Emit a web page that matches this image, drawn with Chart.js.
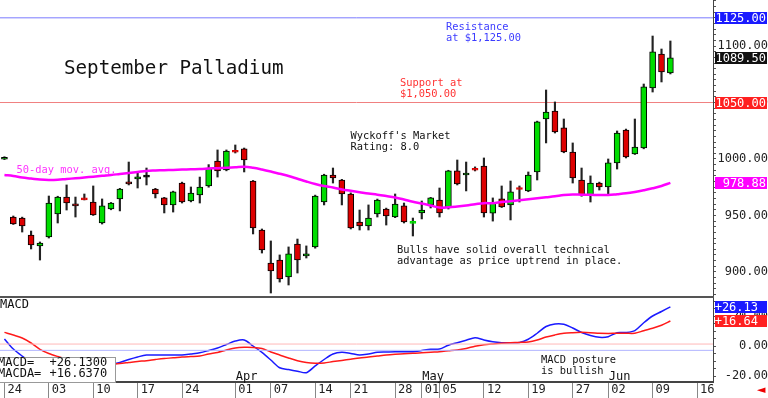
<!DOCTYPE html>
<html>
<head>
<meta charset="utf-8">
<title>September Palladium</title>
<script src="https://cdn.jsdelivr.net/npm/chart.js@4.4.1/dist/chart.umd.min.js"></script>
<style>
  body { margin: 0; background: #fff; }
  #wrap { position: relative; width: 768px; height: 398px; overflow: hidden; background: #fff; }
  canvas { position: absolute; left: 0; }
  #priceChart { top: 0; }
  #macdChart { top: 297px; }
  .sep { position: absolute; left: 0; top: 296px; width: 714px; height: 2px; background: #555; }
  .note { position: absolute; white-space: pre; font-family: "DejaVu Sans Mono", monospace; font-size: 10.4px; line-height: 10.5px; color: #111; }
  .mono12 { position: absolute; white-space: pre; font-family: "DejaVu Sans Mono", monospace; font-size: 12px; line-height: 11px; color: #111; }
  #macdBox { position: absolute; left: -1px; top: 357px; width: 115px; height: 24px; background: #fff; border: 1px solid #999; }
  #arrow { position: absolute; left: 757px; top: 383px; font: 11px "DejaVu Sans", sans-serif; color: #e00; }
</style>
</head>
<body>
<div id="wrap">
  <canvas id="priceChart" width="768" height="296"></canvas>
  <canvas id="macdChart" width="768" height="101"></canvas>
  <div class="sep"></div>

  <div class="note" style="left:64px;top:58.4px;font-size:19.2px;line-height:20px;">September Palladium</div>
  <div class="note" style="left:446px;top:21.2px;color:#3c3cff;">Resistance
at $1,125.00</div>
  <div class="note" style="left:400px;top:77.2px;color:#ff3333;">Support at
$1,050.00</div>
  <div class="note" style="left:350.5px;top:130.2px;">Wyckoff's Market
Rating: 8.0</div>
  <div class="note" style="left:16.5px;top:164.2px;color:#ff33ff;">50-day mov. avg.</div>
  <div class="note" style="left:397px;top:244.2px;">Bulls have solid overall technical
advantage as price uptrend in place.</div>

  <div class="mono12" style="left:0;top:299px;">MACD</div>
  <div class="note" style="left:541px;top:354.2px;">MACD posture
is bullish</div>
  <div id="macdBox"></div>
  <div class="mono12" id="boxLabels" style="left:-2px;top:357px;">MACD=
MACDA=</div>
  <div class="mono12" id="boxValues" style="left:49.5px;top:357px;"></div>
  <div id="arrow">&#9668;</div>
</div>

<script>
// trading days (MM-DD), the last four are empty future slots on the axis
const dates = [
  '02-24','02-25','02-26','02-27','02-28',
  '03-03','03-04','03-05','03-06','03-07',
  '03-10','03-11','03-12','03-13','03-14',
  '03-17','03-18','03-19','03-20','03-21',
  '03-24','03-25','03-26','03-27','03-28',
  '03-31','04-01','04-02','04-03','04-04',
  '04-07','04-08','04-09','04-10','04-11',
  '04-14','04-15','04-16','04-17',
  '04-21','04-22','04-23','04-24','04-25',
  '04-28','04-29','04-30','05-01','05-02',
  '05-05','05-06','05-07','05-08','05-09',
  '05-12','05-13','05-14','05-15','05-16',
  '05-19','05-20','05-21','05-22','05-23',
  '05-27','05-28','05-29','05-30',
  '06-02','06-03','06-04','06-05','06-06',
  '06-09','06-10','06-11',
  '06-12','06-13','06-16','06-17'
];

const opens = [
  999.8, 948.6, 947.7, 932.7, 923.0, 930.9, 951.3, 966.3, 960.1, 964.8,
  961.9, 943.3, 955.7, 964.6, 979.6, 982.3, 984.0, 973.4, 965.5, 959.3,
  978.7, 962.8, 968.1, 976.1, 998.2, 990.3, 1006.5, 1008.9, 980.5, 937.1,
  907.9, 910.5, 895.5, 924.7, 914.1, 922.1, 961.9, 985.8, 981.4, 969.0,
  944.2, 940.7, 951.3, 955.7, 948.6, 958.4, 943.0, 952.2, 959.3, 963.7,
  956.6, 989.4, 985.8, 990.8, 993.8, 952.1, 964.6, 959.3, 973.8, 971.7,
  988.5, 1035.4, 1042.5, 1027.5, 1006.2, 981.4, 968.1, 978.7, 975.2, 996.5,
  1025.7, 1004.4, 1009.7, 1062.9, 1093.0, 1076.2
];
const highs = [
  1002.0, 949.5, 948.5, 936.2, 926.5, 967.2, 967.0, 977.0, 966.3, 969.0,
  976.1, 964.6, 961.5, 974.0, 997.3, 987.6, 992.0, 974.0, 966.0, 971.5,
  979.5, 975.2, 984.0, 995.0, 1008.0, 1008.0, 1012.4, 1009.7, 981.0, 938.0,
  927.4, 915.0, 922.1, 929.1, 923.0, 968.0, 986.5, 992.0, 982.0, 970.0,
  954.8, 959.3, 964.5, 956.5, 969.0, 961.0, 947.7, 962.8, 966.0, 974.3,
  990.0, 999.1, 997.3, 993.0, 1000.9, 965.5, 976.1, 980.5, 976.1, 988.5,
  1033.5, 1061.1, 1050.5, 1035.4, 1014.2, 992.0, 985.0, 979.5, 1000.0, 1024.8,
  1026.5, 1035.4, 1066.4, 1108.9, 1097.4, 1104.5
];
const lows = [
  999.5, 942.0, 935.3, 920.3, 910.5, 930.0, 943.3, 954.8, 948.6, 963.7,
  950.0, 942.4, 955.0, 954.0, 977.0, 974.3, 977.0, 965.5, 952.2, 953.0,
  961.0, 962.0, 961.0, 975.0, 984.0, 989.5, 1005.3, 988.5, 933.6, 916.7,
  881.3, 891.0, 888.4, 899.0, 912.3, 921.0, 959.3, 978.7, 959.3, 938.0,
  937.1, 937.1, 948.6, 941.5, 948.0, 943.3, 931.8, 946.9, 956.6, 948.6,
  955.7, 977.0, 971.7, 989.4, 948.6, 945.0, 957.0, 946.0, 961.9, 971.0,
  981.4, 1014.2, 1023.0, 1005.5, 978.7, 967.0, 961.9, 972.5, 968.1, 991.1,
  1000.9, 1004.0, 1009.0, 1059.3, 1068.2, 1075.3
];
const closes = [
  1001.5, 942.4, 940.7, 923.8, 925.6, 961.0, 966.3, 961.0, 958.4, 963.8,
  950.4, 958.4, 961.0, 973.4, 977.9, 984.1, 984.0, 969.0, 959.3, 970.8,
  961.9, 969.9, 975.2, 992.0, 989.4, 1007.1, 1006.0, 999.1, 938.9, 919.4,
  900.8, 893.7, 915.9, 910.5, 915.9, 967.2, 985.8, 983.2, 969.0, 938.9,
  940.7, 947.7, 963.7, 949.5, 960.1, 944.2, 944.0, 954.8, 965.5, 952.2,
  989.4, 977.9, 987.6, 990.0, 952.2, 961.0, 957.5, 970.8, 973.0, 985.8,
  1032.8, 1041.6, 1023.9, 1006.2, 983.2, 968.1, 978.7, 975.2, 996.5, 1023.0,
  1001.8, 1010.6, 1063.8, 1094.8, 1077.0, 1089.5
];
const ma50 = [
  985.8, 984.9, 983.6, 982.7, 981.8, 981.4, 981.6, 982.3, 982.9, 983.6,
  984.3, 985.1, 985.8, 986.7, 987.6, 988.5, 989.4, 989.8, 990.1, 990.3,
  990.6, 990.9, 991.1, 991.5, 991.9, 992.2, 992.7, 993.1, 992.2, 990.7,
  988.9, 986.9, 984.9, 982.5, 980.1, 977.9, 976.1, 974.8, 973.0, 971.8,
  970.6, 969.4, 968.4, 967.2, 965.9, 964.1, 962.1, 960.6, 958.8, 957.0,
  957.2, 957.9, 958.8, 959.9, 960.9, 960.8, 961.9, 962.6, 963.4, 964.3,
  965.2, 966.1, 967.0, 968.1, 968.6, 968.4, 968.3, 968.1, 968.1, 968.8,
  969.6, 970.8, 972.3, 974.0, 976.1, 978.88
];
const macd = [
  4.7, -2.0, -6.7, -10.7, -13.3, -14.7, -15.3, -15.7, -15.3, -14.7,
  -14.0, -13.0, -12.3, -11.0, -9.0, -7.3, -6.0, -6.0, -6.0, -6.0,
  -6.0, -5.3, -4.5, -3.0, -1.3, 1.0, 3.3, 4.0, 0.0, -4.3,
  -9.3, -14.5, -15.7, -16.8, -17.8, -13.3, -9.0, -5.3, -4.2, -5.0,
  -6.0, -5.3, -4.2, -4.0, -3.8, -3.8, -3.8, -3.0, -2.2, -2.0,
  0.5, 2.2, 3.8, 5.5, 4.0, 2.8, 2.2, 2.2, 2.4, 4.5,
  8.5, 13.0, 14.7, 14.5, 12.0, 9.0, 7.0, 5.8, 6.2, 8.9,
  9.0, 10.3, 15.5, 20.0, 23.0, 26.13
];
const macdAvg = [
  9.1, 7.3, 5.3, 2.0, -2.2, -5.0, -7.0, -8.7, -10.0, -11.0,
  -11.7, -12.0, -12.1, -11.7, -11.0, -10.3, -9.8, -9.0, -8.3, -7.9,
  -7.3, -7.0, -6.7, -5.3, -4.3, -2.7, -1.3, -0.9, -1.0, -1.7,
  -4.0, -6.0, -8.0, -9.8, -11.0, -11.5, -11.3, -10.4, -9.6, -8.8,
  -8.0, -7.4, -6.7, -6.0, -5.5, -5.1, -4.9, -4.5, -4.1, -3.8,
  -3.2, -2.6, -1.6, -0.2, 0.8, 1.4, 1.9, 2.2, 2.4, 2.7,
  4.0, 6.0, 7.4, 8.5, 8.9, 9.1, 8.9, 8.5, 8.4, 8.5,
  8.5, 8.5, 10.2, 11.8, 13.8, 16.637
];

const resistance = 1125;
const support = 1050;
const macdRefHigh = 1.3;
const macdRefLow = -2.9;

// x axis labels
const tickDates = ['02-24','03-03','03-10','03-17','03-24','04-01','04-07','04-14','04-21',
                   '04-28','05-01','05-05','05-12','05-19','05-27','06-02','06-09','06-16'];
const monthStarts = ['04-01', '05-01', '06-02'];
const monthNames = ['Apr', 'May', 'Jun'];

// layout constants
const XMIN = -0.5, XMAX = 79.8;
const PRICE_MIN = 878.65, PRICE_MAX = 1140.8;
const MACD_MIN = -24, MACD_MAX = 32.67;
const AXIS_W = 55;
const UP = '#00dd00', DOWN = '#dd0000';
const MONO = '"DejaVu Sans Mono", monospace';

function steps(from, to, step) {
  const out = [];
  for (let v = from; v <= to + 1e-9; v += step) out.push(Math.round(v * 100) / 100);
  return out;
}

const candleColor = i => closes[i] > opens[i] ? UP : (closes[i] < opens[i] ? DOWN : '#000');
const isDoji = i => Math.abs(closes[i] - opens[i]) < 1.2;

// coloured value tags on the right axis
const tagPlugin = {
  id: 'tags',
  afterDraw(chart, args, opts) {
    const ctx = chart.ctx;
    const y = chart.scales.y;
    const left = chart.chartArea.right + 2;
    ctx.save();
    ctx.font = '12px ' + MONO;
    ctx.textAlign = 'right';
    ctx.textBaseline = 'middle';
    opts.items.forEach(t => {
      const py = Math.round(y.getPixelForValue(t.value));
      ctx.fillStyle = t.bg;
      ctx.fillRect(left, py - 6, 52, 12);
      ctx.fillStyle = '#fff';
      ctx.fillText(t.text, opts.textRight, py + 1);
    });
    ctx.restore();
  }
};

// month names above the date row
const monthPlugin = {
  id: 'months',
  afterDraw(chart) {
    const ctx = chart.ctx;
    const x = chart.scales.x;
    ctx.save();
    ctx.font = '12px ' + MONO;
    ctx.fillStyle = '#111';
    ctx.textAlign = 'left';
    ctx.textBaseline = 'alphabetic';
    monthStarts.forEach((d, k) => {
      ctx.fillText(monthNames[k], x.getPixelForValue(dates.indexOf(d)) + 0.5, chart.chartArea.bottom - 2);
    });
    ctx.restore();
  }
};

const last = arr => arr[arr.length - 1];
const idx = closes.map((_, i) => i);

const xHidden = { type: 'linear', min: XMIN, max: XMAX, offset: false, display: false, grid: { offset: false } };

new Chart(document.getElementById('priceChart'), {
  type: 'bar',
  data: {
    datasets: [
      {
        type: 'line', data: [{ x: XMIN, y: resistance }, { x: XMAX, y: resistance }],
        borderColor: '#7a7aff', borderWidth: 1, pointRadius: 0, order: 5
      },
      {
        type: 'line', data: [{ x: XMIN, y: support }, { x: XMAX, y: support }],
        borderColor: '#f08080', borderWidth: 1, pointRadius: 0, order: 5
      },
      {
        data: idx.map(i => ({ x: i, y: [lows[i], highs[i]] })),
        backgroundColor: '#222', borderWidth: 0, barThickness: 1.5, grouped: false, order: 2
      },
      {
        data: idx.map(i => ({ x: i, y: [opens[i], closes[i]] })),
        backgroundColor: idx.map(candleColor),
        borderColor: idx.map(i => isDoji(i) ? candleColor(i) : '#000'),
        borderWidth: 1, borderSkipped: false, barThickness: 6, minBarLength: 2,
        grouped: false, order: 1
      },
      {
        type: 'line', data: ma50.map((v, i) => ({ x: i, y: v })),
        borderColor: '#ff00ff', borderWidth: 2.5, pointRadius: 0, tension: 0.4, order: 0
      }
    ]
  },
  options: {
    responsive: false, devicePixelRatio: 1, animation: false, events: [],
    layout: { padding: 0 },
    plugins: {
      legend: { display: false }, tooltip: { enabled: false },
      tags: {
        textRight: 766,
        items: [
          { value: resistance, text: resistance.toFixed(2), bg: '#1a1aff' },
          { value: last(closes), text: last(closes).toFixed(2), bg: '#111' },
          { value: support, text: support.toFixed(2), bg: '#ff2020' },
          { value: last(ma50), text: last(ma50).toFixed(2), bg: '#ff00ff' }
        ]
      }
    },
    scales: {
      x: xHidden,
      y: {
        type: 'linear', position: 'right', min: PRICE_MIN, max: PRICE_MAX,
        afterFit: s => { s.width = AXIS_W; s.paddingTop = 0; s.paddingBottom = 0; },
        afterBuildTicks: s => { s.ticks = steps(880, 1140, 5).map(v => ({ value: v })); },
        grid: { drawOnChartArea: false, tickLength: 3, color: '#555' },
        border: { color: '#444', width: 1 },
        ticks: {
          autoSkip: false, padding: 0, crossAlign: 'far', color: '#222',
          font: { family: MONO, size: 12 },
          callback: v => v % 50 === 0 ? v.toFixed(2) : ''
        }
      }
    }
  },
  plugins: [tagPlugin]
});

new Chart(document.getElementById('macdChart'), {
  type: 'line',
  data: {
    datasets: [
      {
        data: [{ x: XMIN, y: macdRefHigh }, { x: XMAX, y: macdRefHigh }],
        borderColor: '#ffb8b8', borderWidth: 1, pointRadius: 0
      },
      {
        data: [{ x: XMIN, y: macdRefLow }, { x: XMAX, y: macdRefLow }],
        borderColor: '#b0b4ff', borderWidth: 1, pointRadius: 0
      },
      {
        data: macdAvg.map((v, i) => ({ x: i, y: v })),
        borderColor: '#ff1a1a', borderWidth: 1.5, pointRadius: 0, tension: 0.3
      },
      {
        data: macd.map((v, i) => ({ x: i, y: v })),
        borderColor: '#1a1aff', borderWidth: 1.5, pointRadius: 0, tension: 0.3
      }
    ]
  },
  options: {
    responsive: false, devicePixelRatio: 1, animation: false, events: [],
    layout: { padding: 0 },
    plugins: {
      legend: { display: false }, tooltip: { enabled: false },
      tags: {
        textRight: 758,
        items: [
          { value: last(macd), text: '+' + last(macd).toFixed(2), bg: '#1a1aff' },
          { value: last(macdAvg), text: '+' + last(macdAvg).toFixed(2), bg: '#ff2020' }
        ]
      }
    },
    scales: {
      x: {
        type: 'linear', min: XMIN, max: XMAX, offset: false, position: 'bottom',
        afterFit: s => { s.height = 16; s.paddingLeft = 0; s.paddingRight = 0; },
        afterBuildTicks: s => { s.ticks = tickDates.map(d => ({ value: dates.indexOf(d) })); },
        grid: { drawOnChartArea: false, offset: false, tickLength: 16, color: '#888' },
        border: { color: '#444', width: 2 },
        ticks: {
          autoSkip: false, minRotation: 0, maxRotation: 0, align: 'start', labelOffset: 3, padding: -15,
          color: '#222', font: { family: MONO, size: 12 },
          callback: v => (dates[v] || '').slice(3)
        }
      },
      y: {
        type: 'linear', position: 'right', min: MACD_MIN, max: MACD_MAX,
        afterFit: s => { s.width = AXIS_W; s.paddingTop = 0; s.paddingBottom = 0; },
        afterBuildTicks: s => { s.ticks = steps(-20, 30, 5).map(v => ({ value: v })); },
        grid: { drawOnChartArea: false, tickLength: 3, color: '#555' },
        border: { color: '#444', width: 1 },
        ticks: {
          autoSkip: false, padding: -1, crossAlign: 'far', color: '#222',
          font: { family: MONO, size: 12 },
          callback: v => v % 20 === 0 ? v.toFixed(2) : ''
        }
      }
    }
  },
  plugins: [tagPlugin, monthPlugin]
});

document.getElementById('boxValues').textContent =
  '+' + last(macd).toFixed(4) + '\n+' + last(macdAvg).toFixed(4);
</script>
</body>
</html>
